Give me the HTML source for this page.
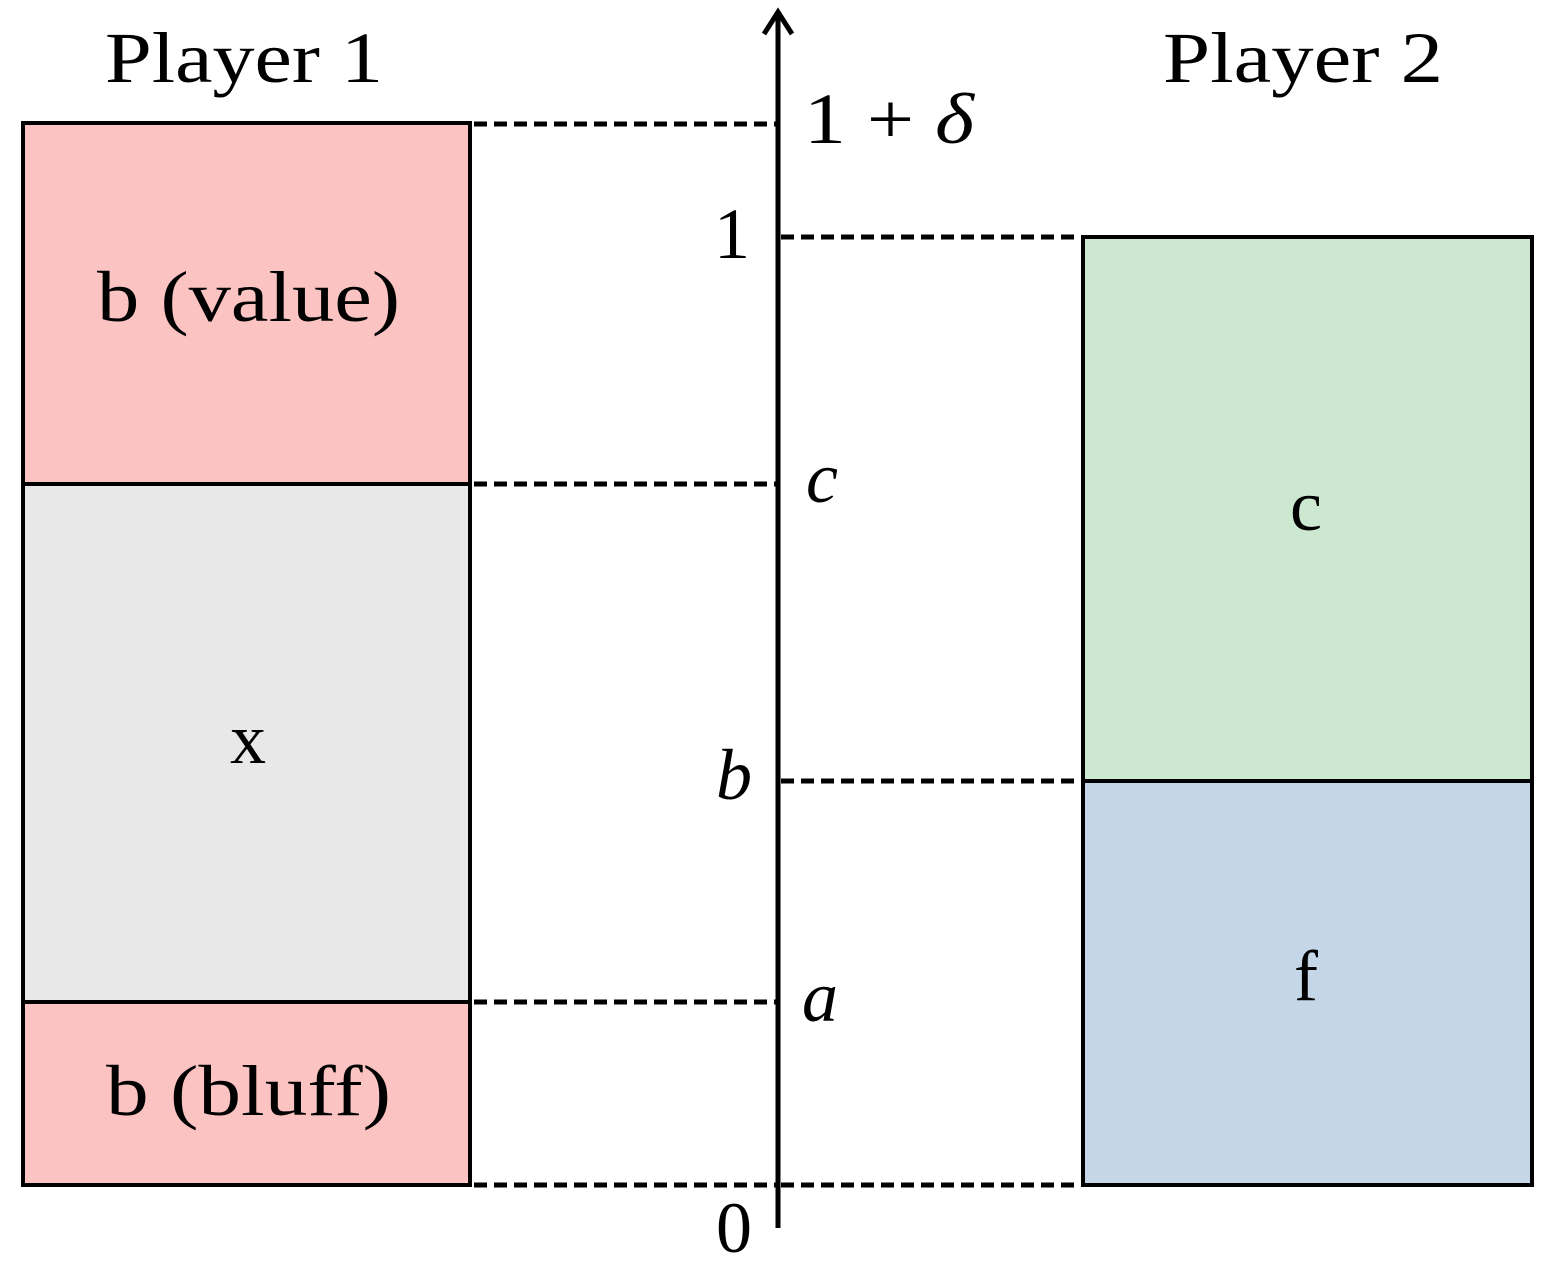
<!DOCTYPE html>
<html><head><style>body{margin:0;background:#fff}svg{display:block}</style></head>
<body>
<svg width="1548" height="1266" viewBox="0 0 1548 1266" xmlns="http://www.w3.org/2000/svg" font-family="'Liberation Serif', serif" fill="#000">
<rect x="0" y="0" width="1548" height="1266" fill="#fff"/>
<rect x="23" y="123" width="447" height="361" fill="#fcc3c3"/>
<rect x="23" y="484" width="447" height="518" fill="#e8e8e8"/>
<rect x="23" y="1002" width="447" height="183" fill="#fcc3c3"/>
<rect x="1083" y="237" width="449" height="544" fill="#cde8d0"/>
<rect x="1083" y="781" width="449" height="404" fill="#c4d6e7"/>
<g stroke="#000" stroke-width="4" fill="none">
<rect x="23" y="123" width="447" height="1062"/>
<line x1="23" y1="484" x2="470" y2="484"/>
<line x1="23" y1="1002" x2="470" y2="1002"/>
<rect x="1083" y="237" width="449" height="948"/>
<line x1="1083" y1="781" x2="1532" y2="781"/>
<line x1="778" y1="12" x2="778" y2="1228" stroke-width="5"/>
<polyline points="764,34 778,12 792,34" stroke-width="5"/>
</g>
<g stroke="#000" stroke-width="5" stroke-dasharray="13,7">
<line x1="474" y1="124" x2="776" y2="124"/>
<line x1="474" y1="484" x2="776" y2="484"/>
<line x1="474" y1="1002" x2="776" y2="1002"/>
<line x1="474" y1="1185" x2="776" y2="1185"/>
<line x1="781" y1="237" x2="1081" y2="237"/>
<line x1="781" y1="781" x2="1081" y2="781"/>
<line x1="781" y1="1185" x2="1081" y2="1185"/>
</g>
<g font-size="72">
<text x="105" y="82" textLength="278" lengthAdjust="spacingAndGlyphs">Player 1</text>
<text x="1163" y="82" textLength="280" lengthAdjust="spacingAndGlyphs">Player 2</text>
<text x="97" y="321" textLength="303" lengthAdjust="spacingAndGlyphs">b (value)</text>
<text x="248" y="763" text-anchor="middle">x</text>
<text x="106" y="1115" textLength="285" lengthAdjust="spacingAndGlyphs">b (bluff)</text>
<text x="1306" y="530" text-anchor="middle">c</text>
<text x="1306" y="1000" text-anchor="middle">f</text>
<text x="804" y="143" textLength="170" lengthAdjust="spacingAndGlyphs">1 + <tspan font-style="italic">δ</tspan></text>
<text x="750" y="258" text-anchor="end">1</text>
<text x="806" y="502" font-style="italic">c</text>
<text x="752" y="799" text-anchor="end" font-style="italic">b</text>
<text x="802" y="1021" font-style="italic">a</text>
<text x="752" y="1252" text-anchor="end">0</text>
</g>
</svg>
</body></html>
